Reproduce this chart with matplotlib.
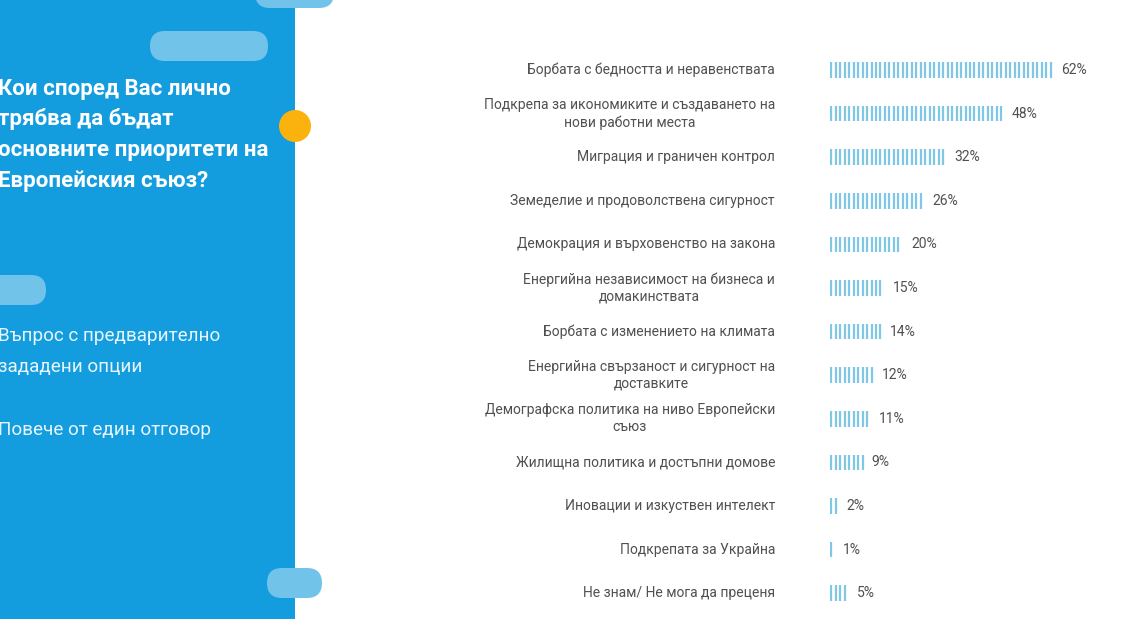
import math

import matplotlib
matplotlib.use("Agg")
import matplotlib.pyplot as plt
from matplotlib.patches import Rectangle, FancyBboxPatch, Circle

plt.rcParams['font.family'] = ['Roboto', 'DejaVu Sans']

# --- data ---
categories = [
    "Борбата с бедността и неравенствата",
    "Подкрепа за икономиките и създаването на\nнови работни места",
    "Миграция и граничен контрол",
    "Земеделие и продоволствена сигурност",
    "Демокрация и върховенство на закона",
    "Енергийна независимост на бизнеса и\nдомакинствата",
    "Борбата с изменението на климата",
    "Енергийна свързаност и сигурност на\nдоставките",
    "Демографска политика на ниво Европейски\nсъюз",
    "Жилищна политика и достъпни домове",
    "Иновации и изкуствен интелект",
    "Подкрепата за Украйна",
    "Не знам/ Не мога да преценя",
]
values = [62, 48, 32, 26, 20, 15, 14, 12, 11, 9, 2, 1, 5]

title = "Кои според Вас лично\nтрябва да бъдат\nосновните приоритети на\nЕвропейския съюз?"
note_1 = "Въпрос с предварително\nзададени опции"
note_2 = "Повече от един отговор"

W, H = 1142, 619
BLUE = "#139ddf"
PILL = "#72c3ea"
STRIPE = "#7fc7e5"
GREY = "#505050"

fig = plt.figure(figsize=(W / 100, H / 100), dpi=100)
fig.patch.set_facecolor("white")

# background layer in pixel coordinates
bg = fig.add_axes([0, 0, 1, 1])
bg.set_xlim(0, W)
bg.set_ylim(H, 0)
bg.axis("off")

bg.add_patch(Rectangle((0, 0), 295, H, color=BLUE, lw=0))


def pill(x0, y0, x1, y1):
    h = y1 - y0
    bg.add_patch(FancyBboxPatch((x0, y0), x1 - x0, h,
                                boxstyle=f"round,pad=0,rounding_size={h / 2}",
                                color=PILL, lw=0))


pill(255, -22, 334, 8)
pill(150, 31, 268, 61)
pill(-40, 275, 46, 305)
pill(267, 568, 322, 598)
bg.add_patch(Circle((295, 126), 16, color="#fbb20c", lw=0))

bg.text(-2, 78, title, color="white", fontsize=16, fontweight="bold",
        va="top", ha="left", linespacing=1.5)
bg.text(-2, 327, note_1, color="#e8f5fc", fontsize=13.6, fontweight="normal",
        va="top", ha="left", linespacing=1.9)
bg.text(-2, 421, note_2, color="#e8f5fc", fontsize=13.6, fontweight="normal",
        va="top", ha="left")

# chart area: 1% = ~3.58 px, rows ~43.6 px apart
px_per = 3.58
left_px, top_px, bot_px = 830, 48.2, 615
ax = fig.add_axes([left_px / W, (H - bot_px) / H,
                   (W - left_px) / W, (bot_px - top_px) / H])
ax.set_xlim(0, (W - left_px) / px_per)
ax.set_ylim(len(values) - 0.5, -0.5)
ax.axis("off")

step = 1.25
for i, (cat, v) in enumerate(zip(categories, values)):
    n = max(1, math.ceil(v / step))
    xs = [0.35 + k * step for k in range(n)]
    ax.vlines(xs, i - 0.18, i + 0.18, color=STRIPE, lw=1.6)
    ax.text(v + 2.6, i, f"{v}%", color=GREY, fontsize=10, va="center", ha="left")
    ax.text(-55 / px_per, i, cat, color=GREY, fontsize=10, va="center",
            ha="right", multialignment="center", linespacing=1.3, clip_on=False)

fig.savefig("out.png", dpi=100)
